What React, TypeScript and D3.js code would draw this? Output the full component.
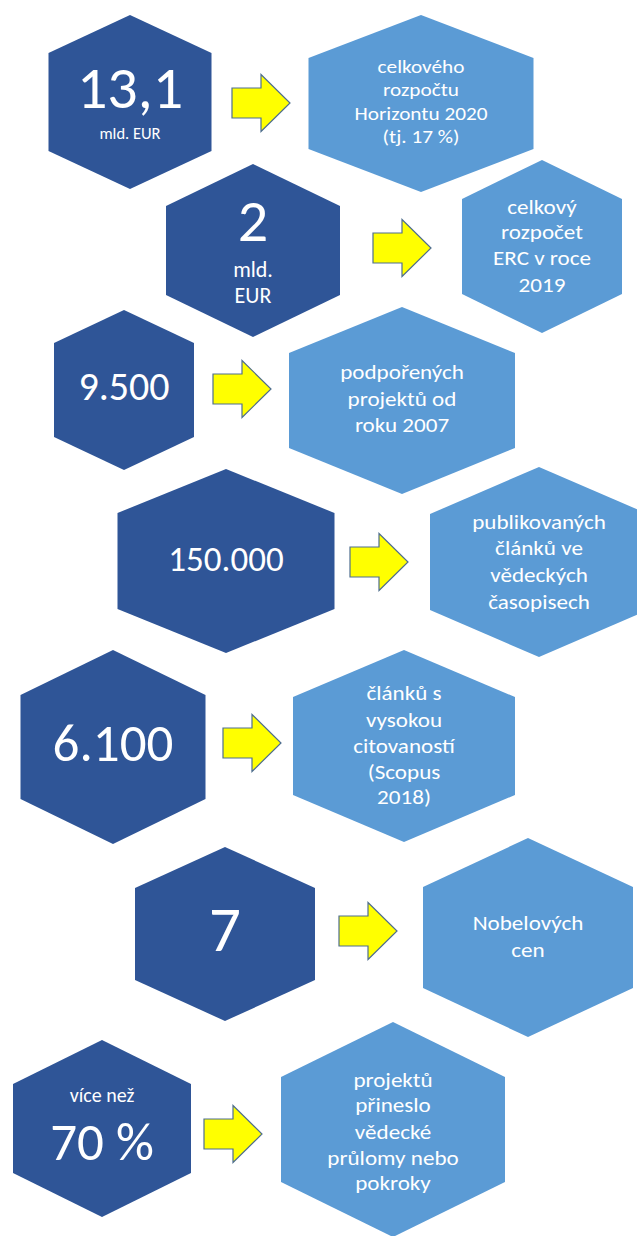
import React from 'react';
import * as d3 from 'd3';

// figures shown in the dark hexagons
const figures = ['13,1', '2', '9.500', '150.000', '6.100', '7', '70 %'];
const figureNotesAbove = ['', '', '', '', '', '', 'více než'];
const figureNotesBelow = [['mld. EUR'], ['mld.', 'EUR'], [], [], [], [], []];

// what the figure means, in the light hexagons
const descriptions = [
  ['celkového', 'rozpočtu', 'Horizontu 2020', '(tj. 17 %)'],
  ['celkový', 'rozpočet', 'ERC v roce', '2019'],
  ['podpořených', 'projektů od', 'roku 2007'],
  ['publikovaných', 'článků ve', 'vědeckých', 'časopisech'],
  ['článků s', 'vysokou', 'citovaností', '(Scopus', '2018)'],
  ['Nobelových', 'cen'],
  ['projektů', 'přineslo', 'vědecké', 'průlomy nebo', 'pokroky'],
];

type Hex = { cx: number; top: number; bottom: number; hw: number; sh: number };

// layout of each row (pixels)
const darkHex: Hex[] = [
  { cx: 130, top: 15, bottom: 189, hw: 81.5, sh: 38 },
  { cx: 253, top: 164, bottom: 337, hw: 87, sh: 42 },
  { cx: 124, top: 310, bottom: 470, hw: 70, sh: 33 },
  { cx: 226, top: 469, bottom: 653, hw: 108.5, sh: 44 },
  { cx: 113, top: 650, bottom: 844, hw: 92.5, sh: 45 },
  { cx: 225, top: 847, bottom: 1021, hw: 90, sh: 41 },
  { cx: 102, top: 1040, bottom: 1217, hw: 89, sh: 44 },
];
const lightHex: Hex[] = [
  { cx: 421, top: 15, bottom: 192, hw: 112.5, sh: 43 },
  { cx: 542, top: 160, bottom: 333, hw: 80, sh: 39 },
  { cx: 402, top: 307, bottom: 494, hw: 113, sh: 46 },
  { cx: 539, top: 467, bottom: 657, hw: 109, sh: 47 },
  { cx: 404, top: 650, bottom: 842, hw: 111, sh: 47 },
  { cx: 528, top: 838, bottom: 1037, hw: 105, sh: 49 },
  { cx: 393, top: 1022, bottom: 1237, hw: 112, sh: 55 },
];
const arrows = [
  { x: 232, cy: 103 },
  { x: 373, cy: 248 },
  { x: 213, cy: 389 },
  { x: 350, cy: 562 },
  { x: 223, cy: 743 },
  { x: 339, cy: 931 },
  { x: 204, cy: 1134 },
];

const figureStyle = [
  { size: 60, y: 108, noteSize: 16.5, noteY: [139], aboveY: 0 },
  { size: 60, y: 241, noteSize: 22, noteY: [277, 303], aboveY: 0 },
  { size: 40, y: 400, noteSize: 0, noteY: [], aboveY: 0 },
  { size: 35, y: 571, noteSize: 0, noteY: [], aboveY: 0 },
  { size: 53, y: 761, noteSize: 0, noteY: [], aboveY: 0 },
  { size: 63, y: 951, noteSize: 0, noteY: [], aboveY: 0 },
  { size: 53, y: 1160, noteSize: 20, noteY: [], aboveY: 1102 },
];
const descStyle = [
  { size: 19, sx: 1.12, y: [73, 96, 120, 143] },
  { size: 21, sx: 1.1, y: [214, 239, 265, 292] },
  { size: 21, sx: 1.1, y: [379, 406, 432] },
  { size: 21, sx: 1.1, y: [529, 555, 582, 609] },
  { size: 21, sx: 1.1, y: [700, 727, 753, 779, 804] },
  { size: 21, sx: 1.1, y: [930, 957] },
  { size: 21, sx: 1.1, y: [1087, 1112, 1139, 1165, 1190] },
];

const W = 637;
const H = 1236;
const DARK = '#2F5597';
const LIGHT = '#5B9BD5';
const FONT = 'Carlito, Calibri, Lato, sans-serif';

const line = d3.line<[number, number]>().curve(d3.curveLinearClosed);

const hexPath = (h: Hex) =>
  line([
    [h.cx, h.top],
    [h.cx + h.hw, h.top + h.sh],
    [h.cx + h.hw, h.bottom - h.sh],
    [h.cx, h.bottom],
    [h.cx - h.hw, h.bottom - h.sh],
    [h.cx - h.hw, h.top + h.sh],
  ]) as string;

// block arrow pointing right
const arrowPath = (x: number, cy: number) => {
  const len = 58, head = 29, shaft = 15, headH = 28.5;
  return line([
    [x, cy - shaft],
    [x + len - head, cy - shaft],
    [x + len - head, cy - headH],
    [x + len, cy],
    [x + len - head, cy + headH],
    [x + len - head, cy + shaft],
    [x, cy + shaft],
  ]) as string;
};

const Label = ({ x, y, size, sx = 1, children }: { x: number; y: number; size: number; sx?: number; children: string }) => (
  <text
    transform={`translate(${x},${y}) scale(${sx},1)`}
    textAnchor="middle"
    fill="#fff"
    fontSize={size}
  >
    {children}
  </text>
);

export default function App() {
  return (
    <svg
      width={W}
      height={H}
      style={{ position: 'absolute', left: 0, top: 0, background: '#fff' }}
      fontFamily={FONT}
    >
      <rect width={W} height={H} fill="#fff" />
      {figures.map((f, i) => {
        const dh = darkHex[i];
        const lh = lightHex[i];
        const fs = figureStyle[i];
        const ds = descStyle[i];
        const a = arrows[i];
        return (
          <g key={i}>
            <path d={hexPath(dh)} fill={DARK} />
            <path d={hexPath(lh)} fill={LIGHT} />
            <path d={arrowPath(a.x, a.cy)} fill="#FFFF00" stroke="#4F6E8F" strokeWidth={1.2} />
            {figureNotesAbove[i] && (
              <Label x={dh.cx} y={fs.aboveY} size={fs.noteSize}>{figureNotesAbove[i]}</Label>
            )}
            <Label x={dh.cx} y={fs.y} size={fs.size}>{f}</Label>
            {figureNotesBelow[i].map((n, j) => (
              <Label key={j} x={dh.cx} y={fs.noteY[j]} size={fs.noteSize}>{n}</Label>
            ))}
            {descriptions[i].map((t, j) => (
              <Label key={j} x={lh.cx} y={ds.y[j]} size={ds.size} sx={ds.sx}>{t}</Label>
            ))}
          </g>
        );
      })}
    </svg>
  );
}
